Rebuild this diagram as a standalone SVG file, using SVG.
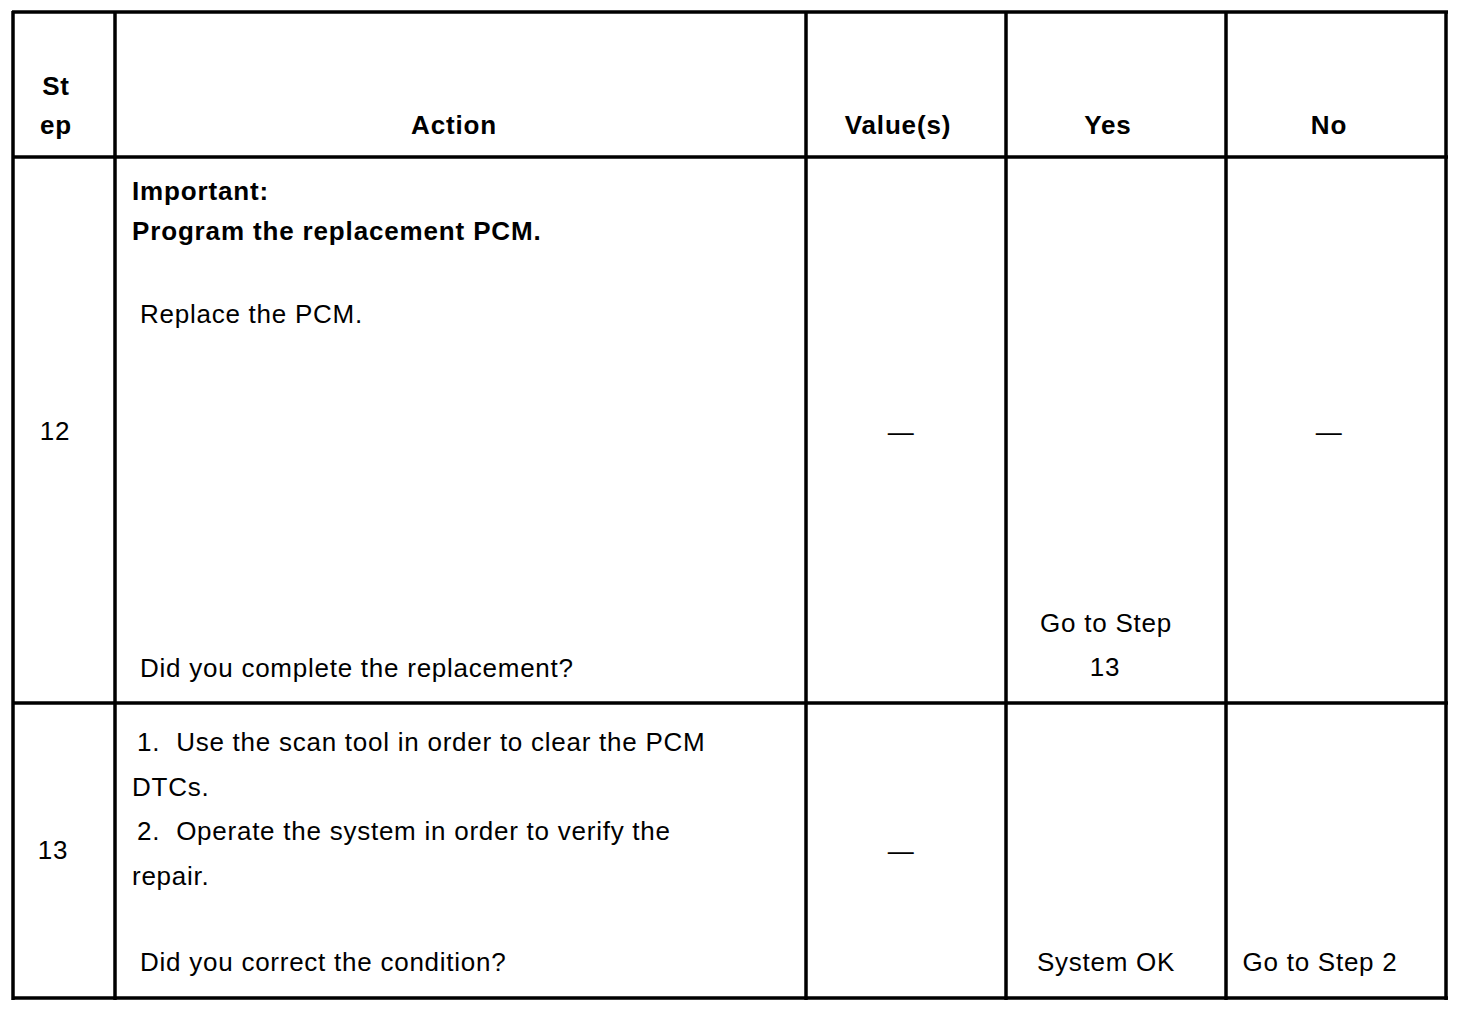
<svg xmlns="http://www.w3.org/2000/svg" width="1472" height="1012" viewBox="0 0 1472 1012">
<style>
text{font-family:"Liberation Sans",Arial,sans-serif;font-size:26px;fill:#000;letter-spacing:0.75px;white-space:pre}
.b{font-weight:bold;letter-spacing:0.85px}
.c{text-anchor:middle}
.ln{stroke:#000;stroke-width:3.5;fill:none}
</style>
<rect width="1472" height="1012" fill="#fff"/>
<g id="grid">
<line class="ln" x1="12" y1="12" x2="1448" y2="12"/>
<line class="ln" x1="12" y1="157" x2="1448" y2="157"/>
<line class="ln" x1="12" y1="703" x2="1448" y2="703"/>
<line class="ln" x1="12" y1="998" x2="1448" y2="998"/>
<line class="ln" x1="13" y1="11" x2="13" y2="1000"/>
<line class="ln" x1="115" y1="11" x2="115" y2="1000"/>
<line class="ln" x1="806" y1="11" x2="806" y2="1000"/>
<line class="ln" x1="1006" y1="11" x2="1006" y2="1000"/>
<line class="ln" x1="1226" y1="11" x2="1226" y2="1000"/>
<line class="ln" x1="1446" y1="11" x2="1446" y2="1000"/>
</g>
<g id="header">
<text class="b c" x="56" y="95">St</text>
<text class="b c" x="56" y="134">ep</text>
<text class="b c" x="454" y="134">Action</text>
<text class="b c" x="898" y="134">Value(s)</text>
<text class="b c" x="1108" y="134">Yes</text>
<text class="b c" x="1329" y="134">No</text>
</g>
<g id="step12">
<text class="c" x="55" y="440">12</text>
<text class="b" x="132" y="200">Important:</text>
<text class="b" x="132" y="240">Program the replacement PCM.</text>
<text x="140" y="323">Replace the PCM.</text>
<text x="140" y="677">Did you complete the replacement?</text>
<text class="c" x="901" y="441">—</text>
<text class="c" x="1106" y="632">Go to Step</text>
<text class="c" x="1105" y="676">13</text>
<text class="c" x="1329" y="441">—</text>
</g>
<g id="step13">
<text class="c" x="53" y="859">13</text>
<text x="137" y="751" xml:space="preserve">1.  Use the scan tool in order to clear the PCM</text>
<text x="132" y="796">DTCs.</text>
<text x="137" y="840" xml:space="preserve">2.  Operate the system in order to verify the</text>
<text x="132" y="885">repair.</text>
<text x="140" y="971">Did you correct the condition?</text>
<text class="c" x="901" y="860">—</text>
<text class="c" x="1106" y="971">System OK</text>
<text class="c" x="1320" y="971">Go to Step 2</text>
</g>
</svg>
